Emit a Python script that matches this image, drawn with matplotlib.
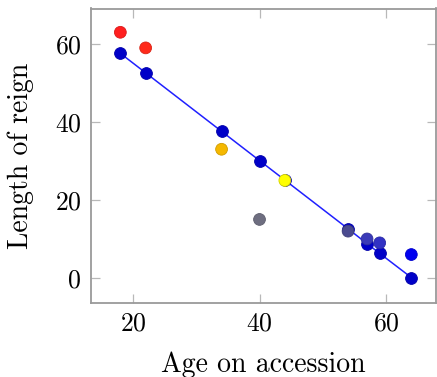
import matplotlib
matplotlib.use("Agg")
import matplotlib.pyplot as plt
import matplotlib.colors as mcolors

# Data
ages = [18, 22, 34, 40, 44, 54, 57, 59, 64]
reigns = [63, 59, 33, 15, 25, 12, 10, 9, 6]
point_colors = ["#ff1f1f", "#ff2a1a", "#f5b800", "#6e6e80", "#ffff00",
                "#4a4a8f", "#3a3ab8", "#3232c4", "#0000f0"]
fit_ages = [18, 22, 34, 40, 44, 54, 57, 59, 64]
fit_reigns = [57.6, 52.6, 37.6, 30.1, 25.1, 12.6, 8.8, 6.3, 0.1]
xticks = [20, 40, 60]
yticks = [0, 20, 40, 60]

plt.rcParams['font.family'] = ['cmr10', 'DejaVu Serif']
plt.rcParams['axes.formatter.use_mathtext'] = True

fig = plt.figure(figsize=(4.37, 3.77), dpi=100)
ax = fig.add_axes([91/437, 1-302.5/377, (436-91)/437, (302.5-8.5)/377])

def darker(c, f=0.85):
    r, g, b = mcolors.to_rgb(c)
    return (r*f, g*f, b*f)

ax.plot(fit_ages, fit_reigns, color="#2020ff", lw=1.1, zorder=2,
        marker="o", markersize=8.5, markerfacecolor="#0000c8",
        markeredgecolor=darker("#0000c8"), markeredgewidth=0.6)
ax.scatter(ages, reigns, s=72, c=point_colors,
           edgecolors=[darker(c) for c in point_colors], linewidths=0.6, zorder=3)

ax.set_xlim(13.36, 67.9)
ax.set_ylim(-6.3, 69.1)
ax.set_xticks(xticks)
ax.set_yticks(yticks)
ax.tick_params(direction="in", length=6.5, width=0.9, color="#b8b8b8",
               top=True, right=True, labelsize=18.5, pad=7)
for s in ax.spines.values():
    s.set_color("#9a9a9a")
    s.set_linewidth(1.3)

ax.set_xlabel("Age on accession", fontsize=20, labelpad=11)
ax.set_ylabel("Length of reign", fontsize=20, labelpad=15)

fig.savefig("out.png", dpi=100)
